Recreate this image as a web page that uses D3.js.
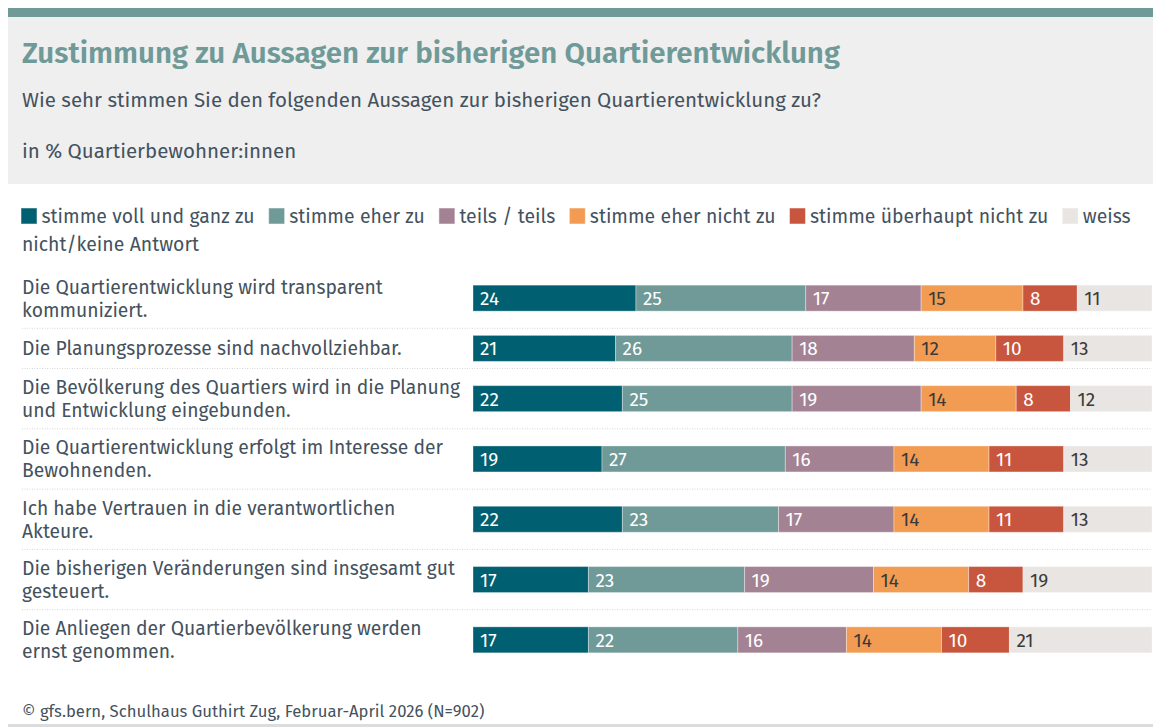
<!DOCTYPE html>
<html>
<head>
<meta charset="utf-8">
<script src="https://cdn.jsdelivr.net/npm/d3@7/dist/d3.min.js"></script>
<style>
  html, body { margin: 0; padding: 0; background: #ffffff; }
  svg { display: block; }
  text { font-family: "Fira Sans", "Open Sans", "Noto Sans", sans-serif; }
</style>
</head>
<body>
<svg id="chart" width="1153" height="727"></svg>
<script>
// Statements (each label line separated by "\n")
const statements = [
  "Die Quartierentwicklung wird transparent\nkommuniziert.",
  "Die Planungsprozesse sind nachvollziehbar.",
  "Die Bevölkerung des Quartiers wird in die Planung\nund Entwicklung eingebunden.",
  "Die Quartierentwicklung erfolgt im Interesse der\nBewohnenden.",
  "Ich habe Vertrauen in die verantwortlichen\nAkteure.",
  "Die bisherigen Veränderungen sind insgesamt gut\ngesteuert.",
  "Die Anliegen der Quartierbevölkerung werden\nernst genommen."
];

// Answer categories
const categories = [
  "stimme voll und ganz zu",
  "stimme eher zu",
  "teils / teils",
  "stimme eher nicht zu",
  "stimme überhaupt nicht zu",
  "weiss nicht/keine Antwort"
];

// Shares in % per category, one entry per statement
const vollUndGanz     = [24, 21, 22, 19, 22, 17, 17];
const eherZu          = [25, 26, 25, 27, 23, 23, 22];
const teilsTeils      = [17, 18, 19, 16, 17, 19, 16];
const eherNicht       = [15, 12, 14, 14, 14, 14, 14];
const ueberhauptNicht = [8, 10, 8, 11, 11, 8, 10];
const weissNicht      = [11, 13, 12, 13, 13, 19, 21];

const seriesValues = [vollUndGanz, eherZu, teilsTeils, eherNicht, ueberhauptNicht, weissNicht];

const colors = ["#005f70", "#6f9a98", "#a38294", "#f29b52", "#c8553d", "#e9e5e2"];
const labelColors = ["#ffffff", "#ffffff", "#ffffff", "#3a3a3a", "#ffffff", "#3a3a3a"];

const title = "Zustimmung zu Aussagen zur bisherigen Quartierentwicklung";
const subtitle = "Wie sehr stimmen Sie den folgenden Aussagen zur bisherigen Quartierentwicklung zu?";
const unitNote = "in % Quartierbewohner:innen";
const source = "© gfs.bern, Schulhaus Guthirt Zug, Februar-April 2026 (N=902)";

const W = 1153, H = 727;
const svg = d3.select("#chart");
const textColor = "#44525e";

// Header block
svg.append("rect").attr("x", 8).attr("y", 8).attr("width", W - 8).attr("height", 9).attr("fill", "#6f9a98");
svg.append("rect").attr("x", 8).attr("y", 17).attr("width", W - 8).attr("height", 167).attr("fill", "#efefef");

svg.append("text").attr("x", 22).attr("y", 63)
  .attr("font-size", 29.5).attr("font-weight", 600).attr("fill", "#6f9a98")
  .text(title);
svg.append("text").attr("x", 22).attr("y", 107)
  .attr("font-size", 20.5).attr("fill", textColor)
  .text(subtitle);
svg.append("text").attr("x", 22).attr("y", 158)
  .attr("font-size", 20.5).attr("fill", textColor)
  .text(unitNote);

// Legend: flows word by word, wrapping like inline text
const legend = svg.append("g");
const legendLeft = 22, legendRight = 1140, legendFont = 19.4, legendLineH = 28;
let lx = legendLeft, ly = 223;
categories.forEach((cat, i) => {
  if (i > 0) lx += 15;
  if (lx + 20 > legendRight) { lx = legendLeft; ly += legendLineH; }
  legend.append("rect").attr("x", lx - 1).attr("y", ly - 15).attr("width", 16).attr("height", 16)
    .attr("fill", colors[i]).attr("stroke", "#ffffff").attr("stroke-opacity", 0.5);
  lx += 19.5;
  const words = cat.split(" ");
  words.forEach((w, j) => {
    const t = legend.append("text").attr("font-size", legendFont).attr("fill", textColor).text(w);
    const wWidth = t.node().getComputedTextLength();
    if (lx + wWidth > legendRight) { lx = legendLeft; ly += legendLineH; }
    t.attr("x", lx).attr("y", ly);
    lx += wWidth;
    if (j < words.length - 1) lx += legendFont * 0.28;
  });
});

// Row layout: height depends on number of label lines
const lineCounts = statements.map(s => s.split("\n").length);
const rowUnits = lineCounts.map(n => 1 + n);
const cumUnits = [0];
rowUnits.forEach(u => cumUnits.push(cumUnits[cumUnits.length - 1] + u));
const y = d3.scaleLinear().domain([0, cumUnits[cumUnits.length - 1]]).range([268, 670]);

const x = d3.scaleLinear().domain([0, 100]).range([473, 1152]);
const barH = 26;

const rows = svg.append("g");
statements.forEach((s, i) => {
  const top = y(cumUnits[i]), bottom = y(cumUnits[i + 1]);
  const mid = (top + bottom) / 2;
  const lines = s.split("\n");
  const lineH = 23;
  const label = rows.append("text").attr("font-size", 19.3).attr("fill", textColor);
  lines.forEach((ln, k) => {
    label.append("tspan").attr("x", 22)
      .attr("y", mid + (k - (lines.length - 1) / 2) * lineH + 7)
      .text(ln);
  });
  if (i < statements.length - 1) {
    rows.append("line").attr("x1", 22).attr("x2", 1152).attr("y1", bottom).attr("y2", bottom)
      .attr("stroke", "#d6d6d6").attr("stroke-width", 1).attr("stroke-dasharray", "1,1.5");
  }

  // Stack of segments
  let acc = 0;
  seriesValues.forEach((vals, c) => {
    const v = vals[i];
    const x0 = x(acc), x1 = x(acc + v);
    rows.append("rect").attr("x", x0).attr("y", mid - barH / 2)
      .attr("width", x1 - x0).attr("height", barH)
      .attr("fill", colors[c]).attr("stroke", "#ffffff").attr("stroke-opacity", 0.35).attr("stroke-width", 1);
    rows.append("text").attr("x", x0 + 7).attr("y", mid + 7)
      .attr("font-size", 19).attr("fill", labelColors[c])
      .text(v);
    acc += v;
  });
});

// Footer
svg.append("text").attr("x", 22).attr("y", 717)
  .attr("font-size", 16.7).attr("fill", textColor)
  .text(source);
svg.append("rect").attr("x", 8).attr("y", 724).attr("width", W - 8).attr("height", 3).attr("fill", "#dcdcdc");
</script>
</body>
</html>
